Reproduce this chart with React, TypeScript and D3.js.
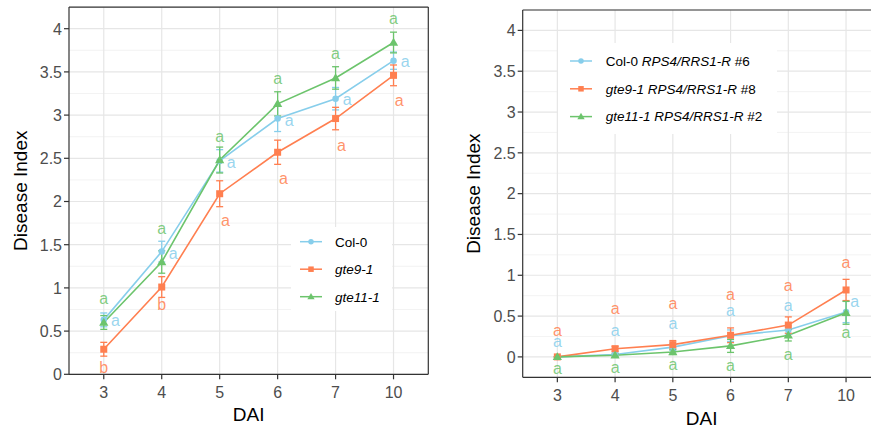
import React from "react";
import * as d3 from "d3";

const categories = ["3", "4", "5", "6", "7", "10"];
const seriesNames = ["Col-0", "gte9-1", "gte11-1"];
const colors = ["#87CEEB", "#FF7F50", "#6CC46C"];
const shapes = ["circle", "square", "triangle"];

// Left panel
const leftCol0 = [0.63, 1.42, 2.47, 2.96, 3.19, 3.63];
const leftCol0Se = [0.08, 0.12, 0.13, 0.15, 0.13, 0.1];
const leftGte9 = [0.29, 1.01, 2.09, 2.57, 2.96, 3.46];
const leftGte9Se = [0.08, 0.12, 0.15, 0.14, 0.13, 0.12];
const leftGte11 = [0.6, 1.3, 2.48, 3.13, 3.43, 3.84];
const leftGte11Se = [0.08, 0.13, 0.15, 0.14, 0.13, 0.12];

const leftCol0Letters = ["a", "a", "a", "a", "a", "a"];
const leftCol0LetterY = [0.61, 1.39, 2.44, 2.92, 3.17, 3.61];
const leftCol0LetterNudge = [0.2, 0.2, 0.2, 0.2, 0.2, 0.2];
const leftGte9Letters = ["b", "b", "a", "a", "a", "a"];
const leftGte9LetterY = [0.08, 0.8, 1.77, 2.25, 2.63, 3.15];
const leftGte9LetterNudge = [0, 0, 0.1, 0.1, 0.1, 0.1];
const leftGte11Letters = ["a", "a", "a", "a", "a", "a"];
const leftGte11LetterY = [0.86, 1.67, 2.74, 3.41, 3.7, 4.11];
const leftGte11LetterNudge = [0, 0, 0, 0, 0, 0];

// Right panel
const rightNames = ["Col-0", "gte9-1", "gte11-1"];
const rightSuffix = [" RPS4/RRS1-R", " RPS4/RRS1-R", " RPS4/RRS1-R"];
const rightLine = [" #6", " #8", " #2"];
const rightCol0 = [0.0, 0.03, 0.12, 0.26, 0.33, 0.55];
const rightCol0Se = [0, 0.02, 0.04, 0.07, 0.05, 0.13];
const rightGte9 = [0.0, 0.1, 0.15, 0.265, 0.39, 0.82];
const rightGte9Se = [0, 0.03, 0.05, 0.09, 0.1, 0.13];
const rightGte11 = [0.0, 0.02, 0.06, 0.135, 0.265, 0.54];
const rightGte11Se = [0, 0.02, 0.03, 0.08, 0.07, 0.14];

const rightCol0Letters = ["a", "a", "a", "a", "a", "a"];
const rightCol0LetterY = [0.18, 0.31, 0.4, 0.56, 0.61, 0.66];
const rightCol0LetterNudge = [0, 0, 0, 0, 0, 0.15];
const rightGte9Letters = ["a", "a", "a", "a", "a", "a"];
const rightGte9LetterY = [0.31, 0.58, 0.64, 0.75, 0.86, 1.14];
const rightGte9LetterNudge = [0, 0, 0, 0, 0, 0];
const rightGte11Letters = ["a", "a", "a", "a", "a", "a"];
const rightGte11LetterY = [-0.16, -0.14, -0.11, -0.12, 0.01, 0.28];
const rightGte11LetterNudge = [0, 0, 0, 0, 0, 0];

const yTicks = [0, 0.5, 1, 1.5, 2, 2.5, 3, 3.5, 4];
const yTickLabels = ["0", "0.5", "1", "1.5", "2", "2.5", "3", "3.5", "4"];

const FONT = "'Liberation Sans', Arial, Helvetica, sans-serif";

type Series = {
  values: number[];
  se: number[];
  letters: string[];
  letterY: number[];
  nudge: number[];
};

function Marker({ shape, x, y, size, color }: any) {
  if (shape === "circle") return <circle cx={x} cy={y} r={size * 0.5} fill={color} />;
  if (shape === "square")
    return <rect x={x - size * 0.5} y={y - size * 0.5} width={size} height={size} fill={color} />;
  const s = d3.symbol(d3.symbolTriangle, size * size * 0.75)();
  return <path d={s || ""} transform={`translate(${x},${y + size * 0.08})`} fill={color} />;
}

function Panel({
  x0, x1, y0, y1, domain, series, legend, yTitleX, xTitleY, xTickY, showRight,
}: any) {
  const x = d3.scalePoint<string>().domain(categories).range([x0, x1]).padding(0.6);
  const y = d3.scaleLinear().domain(domain).range([y0, y1]);
  const step = x.step();
  const minor: number[] = [];
  for (let v = domain[0]; v <= domain[1] + 1e-9; v += 0.25) {
    const r = Math.round(v * 100) / 100;
    if (Math.abs((r * 2) % 1) > 1e-6) minor.push(r);
  }
  const line = d3
    .line<number>()
    .x((_, i) => x(categories[i]) as number)
    .y((d) => y(d));
  const tickLen = 5;
  return (
    <g>
      <rect x={x0} y={y1} width={x1 - x0} height={y0 - y1} fill="#fff" />
      {minor.map((v) => (
        <line key={"mi" + v} x1={x0} x2={x1} y1={y(v)} y2={y(v)} stroke="#EEEEEE" strokeWidth={0.7} />
      ))}
      {yTicks.map((v) => (
        <line key={"ma" + v} x1={x0} x2={x1} y1={y(v)} y2={y(v)} stroke="#E6E6E6" strokeWidth={1.2} />
      ))}
      {categories.map((c) => (
        <line key={"vx" + c} x1={x(c)} x2={x(c)} y1={y0} y2={y1} stroke="#E6E6E6" strokeWidth={1.2} />
      ))}
      {/* legend box */}
      <rect x={legend.bx} y={legend.by} width={legend.bw} height={legend.bh} fill="#fff" />
      {legend.labels.map((lab: any, i: number) => {
        const ly = legend.y0 + i * legend.dy;
        return (
          <g key={"lg" + i}>
            <line x1={legend.kx} x2={legend.kx + 22} y1={ly} y2={ly} stroke={colors[i]} strokeWidth={1.5} />
            <Marker shape={shapes[i]} x={legend.kx + 11} y={ly} size={5.5} color={colors[i]} />
            <text x={legend.tx} y={ly + 4.8} fontSize={13.5} fontFamily={FONT} fill="#000">
              {lab}
            </text>
          </g>
        );
      })}
      {/* lines */}
      {series.map((s: Series, i: number) => (
        <path key={"ln" + i} d={line(s.values) || ""} fill="none" stroke={colors[i]} strokeWidth={1.6} />
      ))}
      {/* error bars */}
      {series.map((s: Series, i: number) =>
        s.values.map((v, j) => {
          const cx = x(categories[j]) as number;
          const top = y(v + s.se[j]);
          const bot = y(v - s.se[j]);
          return (
            <g key={"eb" + i + "-" + j} stroke={colors[i]} strokeWidth={1.3}>
              <line x1={cx} x2={cx} y1={top} y2={bot} />
              <line x1={cx - 3.5} x2={cx + 3.5} y1={top} y2={top} />
              <line x1={cx - 3.5} x2={cx + 3.5} y1={bot} y2={bot} />
            </g>
          );
        })
      )}
      {/* points */}
      {series.map((s: Series, i: number) =>
        s.values.map((v, j) => (
          <Marker key={"pt" + i + "-" + j} shape={shapes[i]} x={x(categories[j])} y={y(v)} size={i === 0 ? 6.5 : 7} color={colors[i]} />
        ))
      )}
      {/* letters */}
      {series.map((s: Series, i: number) =>
        s.letters.map((t, j) => (
          <text
            key={"lt" + i + "-" + j}
            x={(x(categories[j]) as number) + s.nudge[j] * step}
            y={y(s.letterY[j])}
            dy={t === "b" ? "0.32em" : "0.27em"}
            textAnchor="middle"
            fontSize={16}
            fontFamily={FONT}
            fill={colors[i]}
            fillOpacity={0.85}
          >
            {t}
          </text>
        ))
      )}
      {/* border */}
      <line x1={x0} x2={x0} y1={y0} y2={y1} stroke="#333" strokeWidth={1.2} />
      <line x1={x0} x2={x1} y1={y0} y2={y0} stroke="#333" strokeWidth={1.2} />
      <line x1={x0} x2={x1} y1={y1} y2={y1} stroke="#333" strokeWidth={1.2} />
      {showRight && <line x1={x1} x2={x1} y1={y0} y2={y1} stroke="#333" strokeWidth={1.2} />}
      {/* y ticks */}
      {yTicks.map((v, i) => (
        <g key={"yt" + v}>
          <line x1={x0 - tickLen} x2={x0} y1={y(v)} y2={y(v)} stroke="#333" strokeWidth={1.2} />
          <text x={x0 - tickLen - 2} y={y(v) + 5.8} textAnchor="end" fontSize={16} fontFamily={FONT} fill="#4D4D4D">
            {yTickLabels[i]}
          </text>
        </g>
      ))}
      {categories.map((c) => (
        <g key={"xt" + c}>
          <line x1={x(c)} x2={x(c)} y1={y0} y2={y0 + tickLen} stroke="#333" strokeWidth={1.2} />
          <text x={x(c)} y={xTickY} textAnchor="middle" fontSize={16} fontFamily={FONT} fill="#4D4D4D">
            {c}
          </text>
        </g>
      ))}
      <text x={(x0 + x1) / 2} y={xTitleY} textAnchor="middle" fontSize={19} fontFamily={FONT} fill="#000">
        DAI
      </text>
      <text
        transform={`translate(${yTitleX},${(y0 + y1) / 2}) rotate(-90)`}
        textAnchor="middle"
        fontSize={19}
        fontFamily={FONT}
        fill="#000"
      >
        Disease Index
      </text>
    </g>
  );
}

export default function App() {
  const leftSeries: Series[] = [
    { values: leftCol0, se: leftCol0Se, letters: leftCol0Letters, letterY: leftCol0LetterY, nudge: leftCol0LetterNudge },
    { values: leftGte9, se: leftGte9Se, letters: leftGte9Letters, letterY: leftGte9LetterY, nudge: leftGte9LetterNudge },
    { values: leftGte11, se: leftGte11Se, letters: leftGte11Letters, letterY: leftGte11LetterY, nudge: leftGte11LetterNudge },
  ];
  const rightSeries: Series[] = [
    { values: rightCol0, se: rightCol0Se, letters: rightCol0Letters, letterY: rightCol0LetterY, nudge: rightCol0LetterNudge },
    { values: rightGte9, se: rightGte9Se, letters: rightGte9Letters, letterY: rightGte9LetterY, nudge: rightGte9LetterNudge },
    { values: rightGte11, se: rightGte11Se, letters: rightGte11Letters, letterY: rightGte11LetterY, nudge: rightGte11LetterNudge },
  ];
  const leftLabels = seriesNames.map((n, i) =>
    i === 0 ? <tspan key={n}>{n}</tspan> : <tspan key={n} fontStyle="italic">{n}</tspan>
  );
  const rightLabels = rightNames.map((n, i) => (
    <>
      <tspan fontStyle={i === 0 ? "normal" : "italic"}>{n}</tspan>
      <tspan fontStyle="italic">{rightSuffix[i]}</tspan>
      <tspan>{rightLine[i]}</tspan>
    </>
  ));
  return (
    <svg
      width={871}
      height={429}
      style={{ position: "absolute", left: 0, top: 0, background: "#fff" }}
    >
      <rect width={871} height={429} fill="#fff" />
      <Panel
        x0={69}
        x1={428.3}
        y0={374.3}
        y1={7.1}
        domain={[0, 4.25]}
        series={leftSeries}
        legend={{ bx: 291, by: 227, bw: 101, bh: 84, kx: 300, tx: 335, y0: 241.7, dy: 27.5, labels: leftLabels }}
        yTitleX={27}
        xTitleY={421}
        xTickY={397.7}
        showRight={true}
      />
      <Panel
        x0={522.7}
        x1={880.7}
        y0={377.3}
        y1={10}
        domain={[-0.25, 4.25]}
        series={rightSeries}
        legend={{ bx: 558, by: 43, bw: 219, bh: 91, kx: 570, tx: 605.7, y0: 61, dy: 27.8, labels: rightLabels }}
        yTitleX={480}
        xTitleY={425}
        xTickY={401}
        showRight={false}
      />
    </svg>
  );
}
